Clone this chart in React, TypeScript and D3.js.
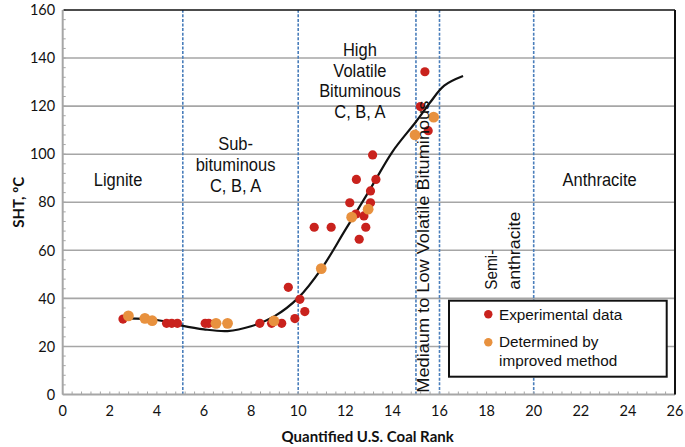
import React from "react";
import * as d3 from "d3";

// ── Data ────────────────────────────────────────────────────────────────────
const expX = [2.56, 4.41, 4.63, 4.87, 6.05, 6.2, 8.37, 8.87, 9.3, 9.58, 9.86, 10.07, 10.28, 10.68, 11.4, 12.19, 12.45, 12.47, 12.59, 12.79, 12.87, 13.07, 13.07, 13.16, 13.3, 15.19, 15.38, 15.52];
const expY = [31.4, 29.6, 29.6, 29.6, 29.6, 29.6, 29.6, 29.6, 29.6, 44.6, 31.6, 39.6, 34.5, 69.6, 69.6, 79.8, 75.1, 89.5, 64.6, 74.3, 69.6, 84.7, 79.8, 99.7, 89.5, 119.8, 134.3, 109.8];

const impX = [2.79, 3.49, 3.8, 6.51, 7.0, 8.97, 10.98, 12.27, 12.97, 14.96, 15.75];
const impY = [32.7, 31.7, 30.7, 29.6, 29.6, 30.6, 52.4, 73.8, 77.1, 108, 115.4];

const fitX = [2.7, 4, 5, 6, 7, 8, 9, 10, 11, 12, 13, 14, 15, 15.6, 16.2, 17];
const fitY = [31.7, 31, 28.8, 27.1, 26.4, 28.4, 32.6, 40.2, 52.5, 68.5, 84.5, 101, 113.5, 121.5, 128.5, 132.5];

// rank boundaries (blue dotted)
const boundaries = [5.1, 10, 15, 16, 20];

const xTicks = d3.range(0, 27, 2);
const yTicks = d3.range(0, 161, 20);

// ── Layout ──────────────────────────────────────────────────────────────────
const W = 685;
const H = 447;
const LABEL_FONT = "'Liberation Sans', Arial, sans-serif";
const AXIS_FONT = "Lato, 'Open Sans', sans-serif";

const RED = "#c9221d";
const ORANGE = "#e8913e";
const GRID = "#a6a6a6";
const BLUE = "#4a7ebb";

export default function App() {
  const x = d3.scaleLinear().domain([0, 26]).range([62.7, 675]);
  const y = d3.scaleLinear().domain([0, 160]).range([394.5, 10]);

  const line = d3
    .line<number>()
    .x((_, i) => x(fitX[i]))
    .y((d) => y(d))
    .curve(d3.curveCatmullRom.alpha(0.5));

  const minorX = d3.range(0, 66).map((i) => i * 0.4);
  const minorY = d3.range(0, 41).map((i) => i * 4);

  // region labels (data coordinates), slightly stretched vertically like the source
  const regionText = (lines: string[], cx: number, top: number) =>
    lines.map((t, i) => (
      <text
        key={t + i}
        transform={`translate(${x(cx)},${y(top) + i * 20.8}) scale(1,1.08)`}
        textAnchor="middle"
        fontSize={16.5}
        fontFamily={LABEL_FONT}
        fill="#111"
      >
        {t}
      </text>
    ));

  return (
    <svg
      width={W}
      height={H}
      style={{ position: "absolute", left: 0, top: 0, background: "#fff" }}
    >
      {/* horizontal grid */}
      {yTicks.slice(1, -1).map((t) => (
        <line key={t} x1={x(0)} x2={x(26)} y1={y(t)} y2={y(t)} stroke={GRID} strokeWidth={1.6} />
      ))}

      {/* rank boundaries */}
      {boundaries.map((b) => (
        <line
          key={b}
          x1={x(b)}
          x2={x(b)}
          y1={y(0)}
          y2={y(160)}
          stroke={BLUE}
          strokeWidth={1.6}
          strokeDasharray="3,1.6"
        />
      ))}

      {/* minor ticks */}
      {minorX.map((t) => (
        <line key={"mx" + t} x1={x(t)} x2={x(t)} y1={y(0)} y2={y(0) - 3} stroke={GRID} strokeWidth={1} />
      ))}
      {minorY.map((t) => (
        <line key={"my" + t} x1={x(0)} x2={x(0) + 3} y1={y(t)} y2={y(t)} stroke={GRID} strokeWidth={1} />
      ))}

      {/* axes */}
      <line x1={x(0)} x2={x(26)} y1={y(0)} y2={y(0)} stroke={GRID} strokeWidth={2} />
      <line x1={x(0)} x2={x(0)} y1={y(0)} y2={y(160)} stroke={GRID} strokeWidth={2} />
      {/* frame top / right */}
      <line x1={x(0) + 1} x2={x(26)} y1={y(160)} y2={y(160)} stroke="#111" strokeWidth={1.6} />
      <line x1={x(26)} x2={x(26)} y1={y(160)} y2={y(0)} stroke="#111" strokeWidth={2} />

      {/* tick labels */}
      {xTicks.map((t) => (
        <text key={"xt" + t} x={x(t)} y={y(0) + 21.5} textAnchor="middle" fontSize={14.5} fontFamily={AXIS_FONT} fill="#111">
          {t}
        </text>
      ))}
      {yTicks.map((t) => (
        <text key={"yt" + t} x={x(0) - 7.5} y={y(t)} dy="0.36em" textAnchor="end" fontSize={14.5} fontFamily={AXIS_FONT} fill="#111">
          {t}
        </text>
      ))}

      {/* axis titles */}
      <text x={x(12.95)} y={441.5} textAnchor="middle" fontSize={15} fontWeight="bold" fontFamily={AXIS_FONT} fill="#111">
        Quantified U.S. Coal Rank
      </text>
      <text
        transform={`translate(24,${y(80)}) rotate(-90)`}
        textAnchor="middle"
        fontSize={15}
        fontWeight="bold"
        fontFamily={AXIS_FONT}
        fill="#111"
      >
        SHT, ºC
      </text>

      {/* fitted curve */}
      <path d={line(fitY) ?? ""} fill="none" stroke="#111" strokeWidth={2.2} />

      {/* experimental points */}
      {expX.map((v, i) => (
        <circle key={"e" + i} cx={x(v)} cy={y(expY[i])} r={4.6} fill={RED} />
      ))}
      {/* improved method points */}
      {impX.map((v, i) => (
        <circle key={"o" + i} cx={x(v)} cy={y(impY[i])} r={5.4} fill={ORANGE} />
      ))}

      {/* region labels */}
      {regionText(["Lignite"], 2.35, 86.9)}
      {regionText(["Sub-", "bituminous", "C, B, A"], 7.34, 101.7)}
      {regionText(["High", "Volatile", "Bituminous", "C, B, A"], 12.62, 140.9)}
      {regionText(["Anthracite"], 22.8, 86.9)}

      <text
        transform={`translate(${x(15.57)},${y(0.75)}) rotate(-90)`}
        fontSize={16.5}
        fontFamily={LABEL_FONT}
        textLength={292}
        lengthAdjust="spacingAndGlyphs"
        fill="#111"
      >
        Mediaum to Low Volatile Bituminous
      </text>
      <text
        transform={`translate(${x(18.45)},${y(43.6)}) rotate(-90)`}
        fontSize={16.5}
        fontFamily={LABEL_FONT}
        textLength={40}
        lengthAdjust="spacingAndGlyphs"
        fill="#111"
      >
        Semi-
      </text>
      <text
        transform={`translate(${x(19.42)},${y(43.6)}) rotate(-90)`}
        fontSize={16.5}
        fontFamily={LABEL_FONT}
        textLength={78}
        lengthAdjust="spacingAndGlyphs"
        fill="#111"
      >
        anthracite
      </text>

      {/* legend */}
      <g>
        <rect x={449} y={300.7} width={217.7} height={76} fill="#fff" stroke="#111" strokeWidth={2} />
        <circle cx={488.3} cy={314.3} r={4.2} fill={RED} />
        <text x={499} y={319.5} fontSize={15.3} fontFamily={LABEL_FONT} fill="#111">
          Experimental data
        </text>
        <circle cx={488.3} cy={342.3} r={4.2} fill={ORANGE} />
        <text x={499} y={347} fontSize={15.3} fontFamily={LABEL_FONT} fill="#111">
          Determined by
        </text>
        <text x={499} y={366.3} fontSize={15.3} fontFamily={LABEL_FONT} fill="#111">
          improved method
        </text>
      </g>
    </svg>
  );
}
